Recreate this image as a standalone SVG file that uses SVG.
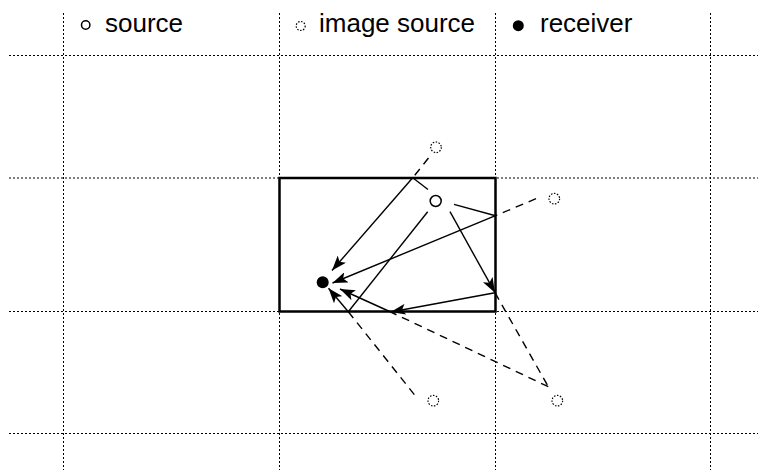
<svg xmlns="http://www.w3.org/2000/svg" width="758" height="470" viewBox="0 0 758 470">
  <style>
    .grid { stroke: #000; stroke-width: 1; stroke-dasharray: 2 2; fill: none; }
    .wall { stroke: #000; stroke-width: 2.5; fill: none; }
    .ray { stroke: #000; stroke-width: 1.4; fill: none; }
    .ray-arrow { stroke: #000; stroke-width: 1.4; fill: none; marker-end: url(#arrow); }
    .virtual { stroke: #000; stroke-width: 1.4; fill: none; stroke-dasharray: 8 6; }
    .src { fill: #fff; stroke: #000; stroke-width: 1.5; }
    .img { fill: #fff; stroke: #000; stroke-width: 1.2; stroke-dasharray: 1.5 1.5; }
    .rcv { fill: #000; stroke: none; }
    .label { font-family: "Liberation Sans", Arial, sans-serif; font-size: 26px; fill: #000; }
  </style>
  <defs>
    <marker id="arrow" markerUnits="userSpaceOnUse" markerWidth="15" markerHeight="11" viewBox="0 0 15 11" refX="15" refY="5.5" orient="auto">
      <path d="M0,0 L15,5.5 L0,11 L3.5,5.5 z" fill="#000"/>
    </marker>
  </defs>

  <!-- background grid -->
  <g id="grid">
    <line class="grid" x1="63.5" y1="13" x2="63.5" y2="470"/>
    <line class="grid" x1="279.5" y1="13" x2="279.5" y2="470"/>
    <line class="grid" x1="495.5" y1="13" x2="495.5" y2="470"/>
    <line class="grid" x1="710.5" y1="13" x2="710.5" y2="470"/>
    <line class="grid" x1="9" y1="55.5" x2="758" y2="55.5"/>
    <line class="grid" x1="9" y1="178" x2="758" y2="178"/>
    <line class="grid" x1="9" y1="311.5" x2="758" y2="311.5"/>
    <line class="grid" x1="9" y1="433.5" x2="758" y2="433.5"/>
  </g>

  <!-- legend -->
  <g id="legend">
    <circle class="src" cx="85.7" cy="25" r="4.2"/>
    <text class="label" x="105" y="32">source</text>
    <circle class="img" cx="300.7" cy="26" r="4.5"/>
    <text class="label" x="319" y="32">image source</text>
    <circle class="rcv" cx="518.3" cy="25.7" r="5.5"/>
    <text class="label" x="540" y="32">receiver</text>
  </g>

  <!-- room -->
  <g id="room">
    <rect class="wall" x="279.5" y="178" width="216" height="133.5"/>
  </g>

  <!-- propagation paths -->
  <g id="connectors">
    <!-- reflection on the top wall -->
    <line class="ray" x1="428" y1="189.5" x2="412.7" y2="177.8"/>
    <line class="ray-arrow" x1="412.7" y1="177.8" x2="332" y2="270.5"/>
    <line class="virtual" x1="428.5" y1="158" x2="412.7" y2="177.8"/>
    <!-- reflection on the right wall -->
    <line class="ray" x1="454" y1="204.3" x2="495.5" y2="215.7"/>
    <line class="ray-arrow" x1="495.5" y1="215.7" x2="332.5" y2="283"/>
    <line class="virtual" x1="536" y1="198.7" x2="495.5" y2="215.7"/>
    <!-- reflection on the bottom wall -->
    <line class="ray" x1="427.7" y1="211.7" x2="348.3" y2="311.7"/>
    <line class="ray-arrow" x1="348.3" y1="311.7" x2="328.5" y2="288.3"/>
    <line class="virtual" x1="348.3" y1="311.7" x2="416" y2="396.7"/>
    <!-- second order: right wall, then bottom wall -->
    <line class="ray-arrow" x1="450" y1="211.7" x2="495" y2="292.7"/>
    <line class="ray-arrow" x1="495" y1="292.7" x2="390.7" y2="312"/>
    <line class="ray-arrow" x1="390.7" y1="312" x2="340" y2="289"/>
    <line class="virtual" x1="495" y1="292.7" x2="548.3" y2="386.7"/>
    <line class="virtual" x1="548.3" y1="386.7" x2="390.7" y2="312"/>
  </g>

  <!-- sources and receiver -->
  <g id="source">
    <circle class="src" cx="435.7" cy="201" r="5.5"/>
  </g>
  <g id="image-top">
    <circle class="img" cx="436" cy="147.3" r="5.3"/>
  </g>
  <g id="image-right">
    <circle class="img" cx="554.3" cy="198.7" r="5.3"/>
  </g>
  <g id="image-bottom">
    <circle class="img" cx="433.3" cy="400.7" r="5.3"/>
  </g>
  <g id="image-second">
    <circle class="img" cx="557.3" cy="400.7" r="5.3"/>
  </g>
  <g id="receiver">
    <circle class="rcv" cx="322.7" cy="282.3" r="6"/>
  </g>
</svg>
